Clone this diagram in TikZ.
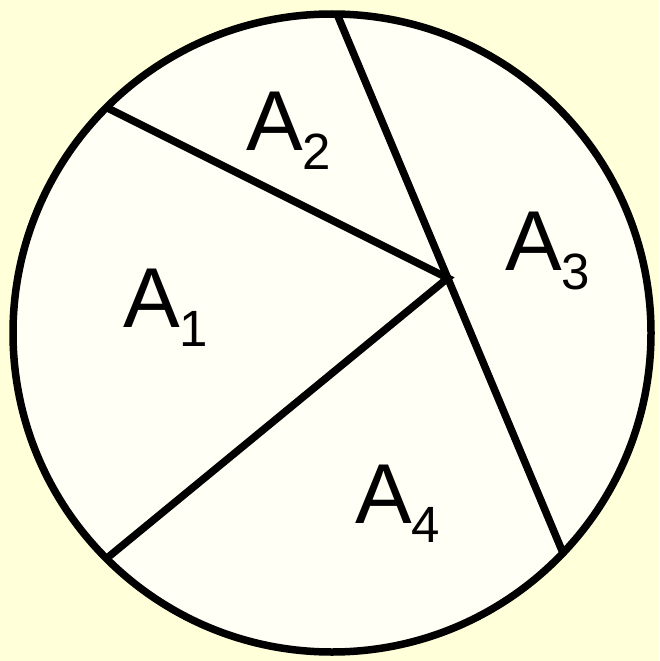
\documentclass[tikz,border=0pt]{standalone}
\usepackage{fontspec}
\setmainfont{Liberation Sans}
\usepackage{xcolor}
\usepackage{tikz}
\usetikzlibrary{calc}
\definecolor{mybg}{RGB}{255,255,217}
\definecolor{mydisc}{RGB}{255,255,245}
\tikzstyle{cut} = [line width=7.5pt, black]
\tikzstyle{area} = [inner sep=0pt, anchor=base west, font=\fontsize{85}{85}\selectfont]
\newcommand{\areal}[1]{A\raisebox{-19pt}{\fontsize{51}{51}\selectfont #1}}

\begin{document}
\begin{tikzpicture}[x=1pt,y=-1pt]
\fill[mybg] (0,0) rectangle (659,661);
\useasboundingbox (0,0) rectangle (659,661);

\coordinate (C) at (332,333);
\fill[mydisc] (C) circle[radius=319pt];

% chord ends and inner corner
\coordinate (top) at ($(C)+(89.1:319pt)$);
\coordinate (bot) at ($(C)+(-43.6:319pt)$);
\coordinate (ul) at ($(C)+(135:319pt)$);
\coordinate (ll) at ($(C)+(-135:319pt)$);
\coordinate (V) at ($(top)!0.49!(bot)$);

\draw[cut] (top) -- (bot);
\draw[cut, line join=miter] (ul) -- (V) -- (ll);
\draw[cut] (C) circle[radius=319pt];

\node[area] (a1) at (123,327) {\areal{1}};
\node[area] (a2) at (246,150) {\areal{2}};
\node[area] (a3) at (505,270) {\areal{3}};
\node[area] (a4) at (355,523) {\areal{4}};
\end{tikzpicture}
\end{document}
